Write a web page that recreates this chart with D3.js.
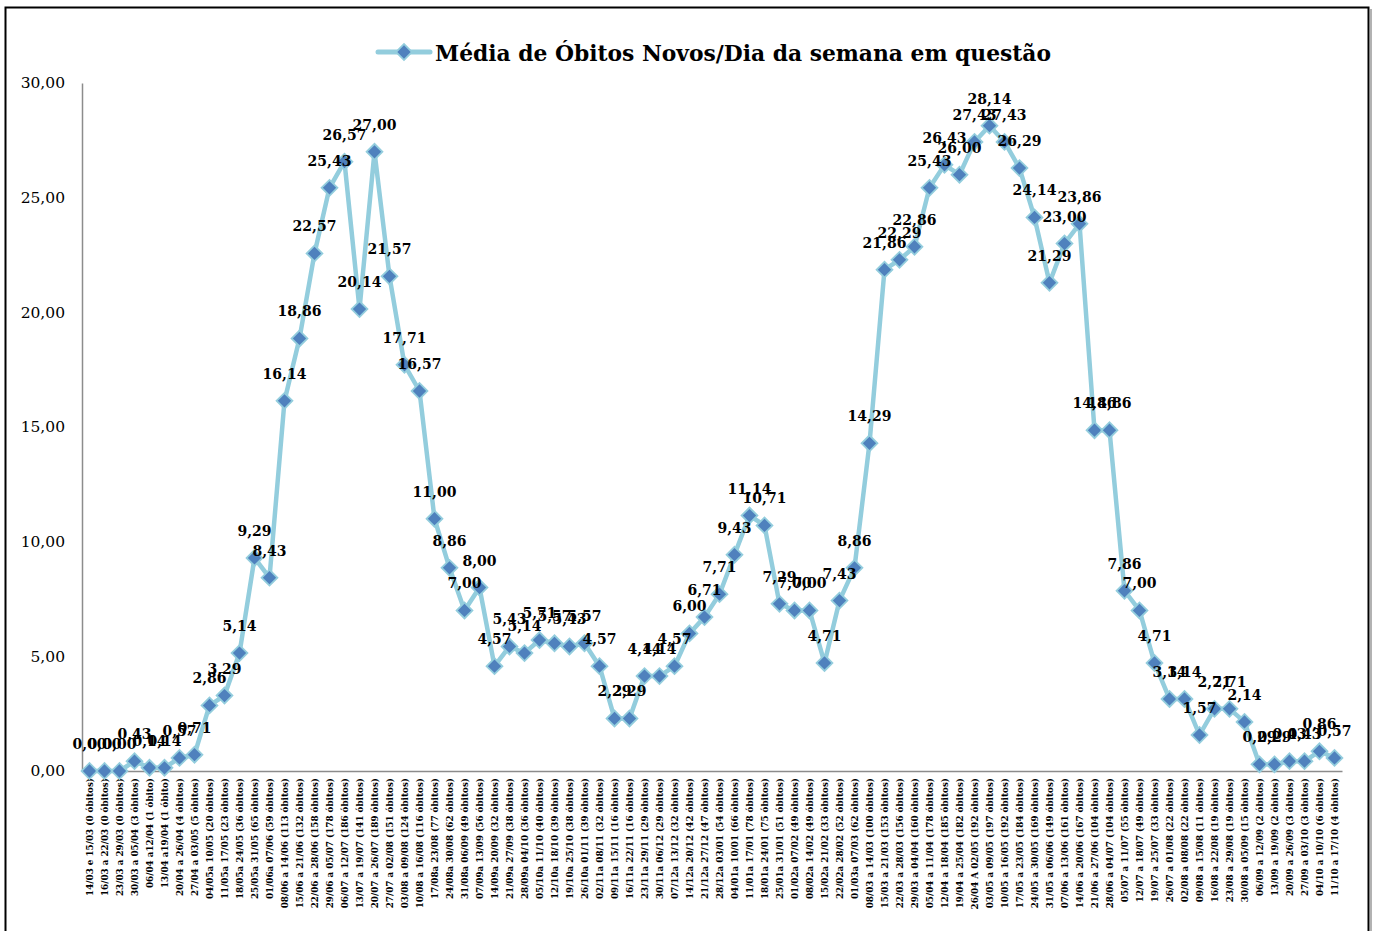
<!DOCTYPE html>
<html>
<head>
<meta charset="utf-8">
<script src="https://cdn.jsdelivr.net/npm/d3@7"></script>
<style>
  html, body { margin: 0; padding: 0; background: #fff; }
  svg { display: block; }
</style>
</head>
<body>
<svg id="chart" width="1375" height="931"></svg>
<script>
const categories = [
  "14/03 e 15/03 (0 óbitos)", "16/03 a 22/03 (0 óbitos)", "23/03 a 29/03 (0 óbitos)", "30/03 a 05/04 (3 óbitos)",
  "06/04 a12/04 (1 óbito)", "13/04 a19/04 (1 óbito)", "20/04 a 26/04 (4 óbitos)", "27/04 a 03/05 (5 óbitos)",
  "04/05a 10/05 (20 óbitos)", "11/05a 17/05 (23 óbitos)", "18/05a 24/05 (36 óbitos)", "25/05a 31/05 (65 óbitos)",
  "01/06a 07/06 (59 óbitos)", "08/06 a 14/06 (113 óbitos)", "15/06 a 21/06 (132 óbitos)", "22/06 a 28/06 (158 óbitos)",
  "29/06 a 05/07 (178 óbitos)", "06/07 a 12/07 (186 óbitos)", "13/07 a 19/07 (141 óbitos)", "20/07 a 26/07 (189 óbitos)",
  "27/07 a 02/08 (151 óbitos)", "03/08 a 09/08 (124 óbitos)", "10/08 a 16/08 (116 óbitos)", "17/08a 23/08 (77 óbitos)",
  "24/08a 30/08 (62 óbitos)", "31/08a 06/09 (49 óbitos)", "07/09a 13/09 (56 óbitos)", "14/09a 20/09 (32 óbitos)",
  "21/09a 27/09 (38 óbitos)", "28/09a 04/10 (36 óbitos)", "05/10a 11/10 (40 óbitos)", "12/10a 18/10 (39 óbitos)",
  "19/10a 25/10 (38 óbitos)", "26/10a 01/11 (39 óbitos)", "02/11a 08/11 (32 óbitos)", "09/11a 15/11 (16 óbitos)",
  "16/11a 22/11 (16 óbitos)", "23/11a 29/11 (29 óbitos)", "30/11a 06/12 (29 óbitos)", "07/12a 13/12 (32 óbitos)",
  "14/12a 20/12 (42 óbitos)", "21/12a 27/12 (47 óbitos)", "28/12a 03/01 (54 óbitos)", "04/01a 10/01 (66 óbitos)",
  "11/01a 17/01 (78 óbitos)", "18/01a 24/01 (75 óbitos)", "25/01a 31/01 (51 óbitos)", "01/02a 07/02 (49 óbitos)",
  "08/02a 14/02 (49 óbitos)", "15/02a 21/02 (33 óbitos)", "22/02a 28/02 (52 óbitos)", "01/03a 07/03 (62 óbitos)",
  "08/03 a 14/03 (100 óbitos)", "15/03 a 21/03 (153 óbitos)", "22/03 a 28/03 (156 óbitos)", "29/03 a 04/04 (160 óbitos)",
  "05/04 a 11/04 (178 óbitos)", "12/04 a 18/04 (185 óbitos)", "19/04 a 25/04 (182 óbitos)", "26/04 A 02/05 (192 óbitos)",
  "03/05 a 09/05 (197 óbitos)", "10/05 a 16/05 (192 óbitos)", "17/05 a 23/05 (184 óbitos)", "24/05 a 30/05 (169 óbitos)",
  "31/05 a 06/06 (149 óbitos)", "07/06 a 13/06 (161 óbitos)", "14/06 a 20/06 (167 óbitos)", "21/06 a 27/06 (104 óbitos)",
  "28/06 a 04/07 (104 óbitos)", "05/07 a 11/07 (55 óbitos)", "12/07 a 18/07 (49 óbitos)", "19/07 a 25/07 (33 óbitos)",
  "26/07 a 01/08 (22 óbitos)", "02/08 a 08/08 (22 óbitos)", "09/08 a 15/08 (11 óbitos)", "16/08 a 22/08 (19 óbitos)",
  "23/08 a 29/08 (19 óbitos)", "30/08 a 05/09 (15 óbitos)", "06/09 a 12/09 (2 óbitos)", "13/09 a 19/09 (2 óbitos)",
  "20/09 a 26/09 (3 óbitos)", "27/09 a 03/10 (3 óbitos)", "04/10 a 10/10 (6 óbitos)", "11/10 a 17/10 (4 óbitos)"
];

const values = [
  0.00, 0.00, 0.00, 0.43, 0.14, 0.14, 0.57, 0.71, 2.86, 3.29, 5.14, 9.29,
  8.43, 16.14, 18.86, 22.57, 25.43, 26.57, 20.14, 27.00, 21.57, 17.71, 16.57, 11.00,
  8.86, 7.00, 8.00, 4.57, 5.43, 5.14, 5.71, 5.57, 5.43, 5.57, 4.57, 2.29,
  2.29, 4.14, 4.14, 4.57, 6.00, 6.71, 7.71, 9.43, 11.14, 10.71, 7.29, 7.00,
  7.00, 4.71, 7.43, 8.86, 14.29, 21.86, 22.29, 22.86, 25.43, 26.43, 26.00, 27.43,
  28.14, 27.43, 26.29, 24.14, 21.29, 23.00, 23.86, 14.86, 14.86, 7.86, 7.00, 4.71,
  3.14, 3.14, 1.57, 2.71, 2.71, 2.14, 0.29, 0.29, 0.43, 0.43, 0.86, 0.57
];

const yTicks = [0, 5, 10, 15, 20, 25, 30];
const seriesName = "Média de Óbitos Novos/Dia da semana em questão";

const fmt = v => d3.format(".2f")(v).replace(".", ",");
const lineColor = "#93CDDD";
const markerFill = "#4F81BD";
const serif = "'DejaVu Serif', 'Liberation Serif', serif";

const svg = d3.select("#chart");

// outer border
svg.append("rect")
  .attr("x", 5.5).attr("y", 7.5).attr("width", 1363).attr("height", 940)
  .attr("fill", "none").attr("stroke", "#000").attr("stroke-width", 2);
svg.append("line")
  .attr("x1", 1371).attr("x2", 1371).attr("y1", 9).attr("y2", 931)
  .attr("stroke", "#999").attr("stroke-width", 1.5);

const plot = { left: 82, right: 1342, top: 83, bottom: 771 };

const x = d3.scaleBand().domain(d3.range(categories.length)).range([plot.left, plot.right]);
const cx = i => x(i) + x.bandwidth() / 2;
const y = d3.scaleLinear().domain([0, 30]).range([plot.bottom, plot.top]);

// y axis
const yAxis = svg.append("g")
  .attr("transform", `translate(${plot.left},0)`)
  .call(d3.axisLeft(y).tickValues(yTicks).tickFormat(fmt).tickSize(0).tickPadding(17));
yAxis.select(".domain").attr("stroke", "#8c8c8c").attr("stroke-width", 1.5);
yAxis.selectAll("text").attr("font-family", serif).attr("font-size", 15.5).attr("fill", "#000");

// x axis
const xAxis = svg.append("g")
  .attr("transform", `translate(0,${plot.bottom})`)
  .call(d3.axisBottom(x).tickFormat(i => categories[i]).tickSize(0).tickPadding(0));
xAxis.select(".domain").attr("stroke", "#8c8c8c").attr("stroke-width", 1.5);
xAxis.selectAll("text")
  .attr("font-family", serif).attr("font-size", 8.8).attr("font-weight", "bold").attr("fill", "#000")
  .attr("transform", "rotate(-90)")
  .attr("text-anchor", "end")
  .attr("x", -7).attr("y", 0).attr("dy", "0.35em");

// line
const line = d3.line().x((d, i) => cx(i)).y(d => y(d));
svg.append("path")
  .datum(values)
  .attr("d", line)
  .attr("fill", "none")
  .attr("stroke", lineColor)
  .attr("stroke-width", 4.5)
  .attr("stroke-linejoin", "round");

// markers
const diamond = d3.symbol().type(d3.symbolSquare).size(125);
svg.append("g").selectAll("path")
  .data(values)
  .join("path")
  .attr("d", diamond)
  .attr("transform", (d, i) => `translate(${cx(i)},${y(d)}) rotate(45)`)
  .attr("fill", markerFill)
  .attr("stroke", lineColor)
  .attr("stroke-width", 1.8);

// data labels
svg.append("g").selectAll("text")
  .data(values)
  .join("text")
  .attr("x", (d, i) => cx(i))
  .attr("y", d => y(d) - 22)
  .attr("text-anchor", "middle")
  .attr("font-family", serif)
  .attr("font-size", 14)
  .attr("font-weight", "bold")
  .attr("fill", "#000")
  .text(d => fmt(d));

// legend / title
const lg = svg.append("g");
lg.append("line")
  .attr("x1", 378).attr("x2", 430).attr("y1", 52).attr("y2", 52)
  .attr("stroke", lineColor).attr("stroke-width", 5).attr("stroke-linecap", "round");
lg.append("path")
  .attr("d", diamond)
  .attr("transform", "translate(404,52) rotate(45)")
  .attr("fill", markerFill).attr("stroke", lineColor).attr("stroke-width", 1.8);
lg.append("text")
  .attr("x", 435).attr("y", 61)
  .attr("font-family", serif).attr("font-size", 21.8).attr("font-weight", "bold").attr("fill", "#000")
  .text(seriesName);
</script>
</body>
</html>
